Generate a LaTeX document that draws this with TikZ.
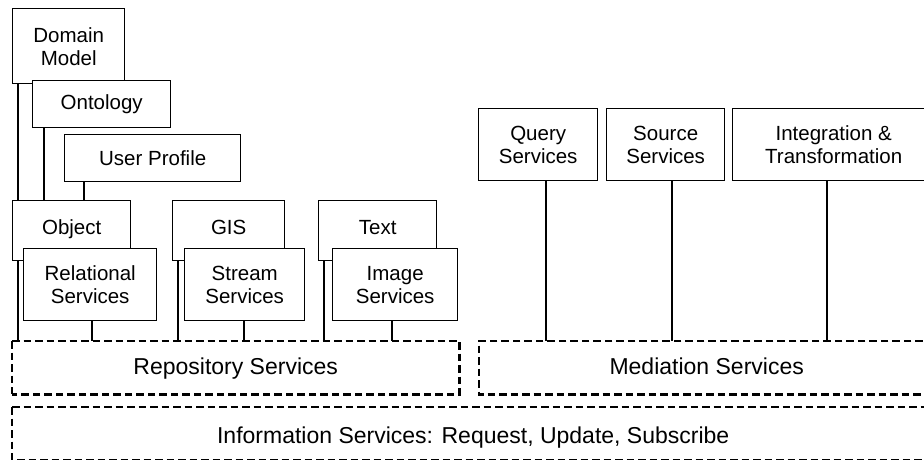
\documentclass[tikz,border=0pt]{standalone}
\usepackage{fontspec}
\setmainfont{Liberation Sans}
\begin{document}
\begin{tikzpicture}[x=1pt,y=-1pt,
  box/.style={draw,line width=1.4pt,fill=white,anchor=north west,inner sep=0pt,
    align=center,font=\fontsize{20.5}{23}\selectfont},
  upper/.style={text height=14pt,text depth=6pt},
  link/.style={line width=1.4pt},
  dthick/.style={line width=2.4pt,dash pattern=on 7.5pt off 4pt},
  dthin/.style={line width=1.2pt,dash pattern=on 7.5pt off 4pt},
  layer/.style={anchor=north west,inner sep=0pt,font=\fontsize{23}{26}\selectfont,
    text height=17pt,text depth=3pt}
]
\useasboundingbox (0,0) rectangle (924,461);
\fill[white] (0,0) rectangle (924,461);
\clip (0,0) rectangle (924,461);

% service layers
\node[layer,minimum width=447pt,minimum height=53pt] (repo) at (12,341) {Repository Services};
\node[layer,minimum width=455pt,minimum height=53pt] (med) at (479,341) {Mediation Services};
\node[layer,text height=20pt,text depth=0pt,minimum width=922pt,minimum height=52pt] (info) at (12,407) {Information Services: Request, Update, Subscribe};

\draw[dthin] (repo.north west) -- (repo.south west);
\draw[dthick] (repo.north west) -- (repo.north east) -- (repo.south east) -- (repo.south west);
\draw[dthick] (med.north east) -- (med.north west) -- (med.south west) -- (med.south east);
\draw[dthin] (info.north west) -- (info.south west) -- (info.south east);
\draw[dthick] (info.north west) -- (info.north east);

% modelling stack
\node[box,minimum width=112pt,minimum height=75pt] (dm) at (12,8) {Domain\\Model};
\node[box,minimum width=138pt,minimum height=47pt] (onto) at (32,80) {Ontology};
\node[box,minimum width=176pt,minimum height=47pt] (user) at (64,134) {User Profile};

% repositories
\node[box,upper,minimum width=118pt,minimum height=60pt] (obj) at (12,200) {Object};
\node[box,minimum width=133pt,minimum height=72pt] (rel) at (23,248) {Relational\\Services};
\node[box,upper,minimum width=112pt,minimum height=60pt] (gis) at (172,200) {GIS};
\node[box,minimum width=120pt,minimum height=72pt] (stream) at (184,248) {Stream\\Services};
\node[box,upper,minimum width=118pt,minimum height=60pt] (txt) at (318,200) {Text};
\node[box,minimum width=125pt,minimum height=72pt] (img) at (332,248) {Image\\Services};

% mediation
\node[box,minimum width=119pt,minimum height=72pt] (query) at (478,108) {Query\\Services};
\node[box,minimum width=118pt,minimum height=72pt] (source) at (606,108) {Source\\Services};
\node[box,minimum width=202pt,minimum height=72pt] (integ) at (732,108) {Integration \&\\Transformation};

% connectors
\draw[link] ([xshift=6pt]dm.south west) -- ([xshift=6pt]dm.south west |- obj.north);
\draw[link] ([xshift=12pt]onto.south west) -- ([xshift=12pt]onto.south west |- obj.north);
\draw[link] ([xshift=20pt]user.south west) -- ([xshift=20pt]user.south west |- obj.north);

\draw[link] ([xshift=6pt]obj.south west) -- ([xshift=6pt]obj.south west |- repo.north);
\draw[link] ([xshift=69pt]rel.south west) -- ([xshift=69pt]rel.south west |- repo.north);
\draw[link] ([xshift=6pt]gis.south west) -- ([xshift=6pt]gis.south west |- repo.north);
\draw[link] ([xshift=60pt]stream.south west) -- ([xshift=60pt]stream.south west |- repo.north);
\draw[link] ([xshift=6pt]txt.south west) -- ([xshift=6pt]txt.south west |- repo.north);
\draw[link] ([xshift=60pt]img.south west) -- ([xshift=60pt]img.south west |- repo.north);

\draw[link] ([xshift=68pt]query.south west) -- ([xshift=68pt]query.south west |- med.north);
\draw[link] ([xshift=66pt]source.south west) -- ([xshift=66pt]source.south west |- med.north);
\draw[link] ([xshift=95pt]integ.south west) -- ([xshift=95pt]integ.south west |- med.north);
\end{tikzpicture}
\end{document}
